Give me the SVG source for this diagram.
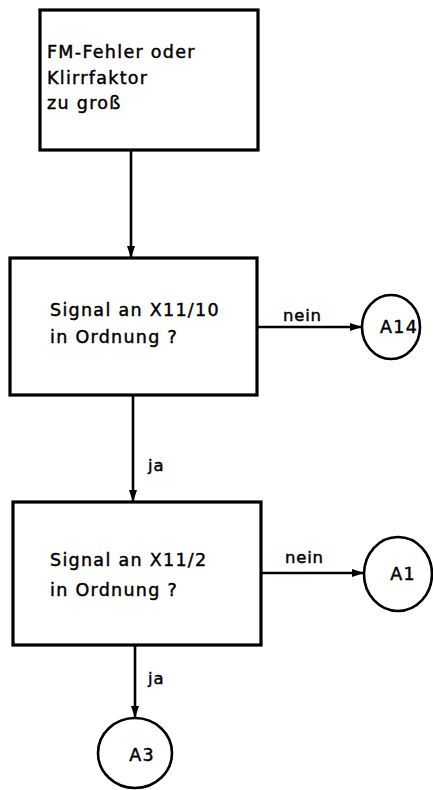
<svg xmlns="http://www.w3.org/2000/svg" width="433" height="790" viewBox="0 0 433 790">
<style>
.box{fill:#fff;stroke:#000;stroke-width:3.2}
.term{fill:#fff;stroke:#000;stroke-width:2.6}
.line{fill:none;stroke:#000;stroke-width:2.6}
text{font-family:"DejaVu Sans","Liberation Sans",sans-serif;font-size:17.5px;fill:#000;stroke:#000;stroke-width:0.45;letter-spacing:1.3px}
.lbl{font-size:16.5px;letter-spacing:0.8px}
</style>
<defs>
<marker id="ah" markerWidth="12" markerHeight="8" refX="11" refY="4" orient="auto" markerUnits="userSpaceOnUse">
<path d="M0,0 L12,4 L0,8 Z" fill="#000"/>
</marker>
</defs>
<rect width="433" height="790" fill="#fff"/>
<g id="connectors">
<line class="line" x1="131" y1="150" x2="131" y2="257" marker-end="url(#ah)"/>
<line class="line" x1="133" y1="395" x2="133" y2="501" marker-end="url(#ah)"/>
<line class="line" x1="257" y1="327" x2="361" y2="327" marker-end="url(#ah)"/>
<line class="line" x1="261" y1="573" x2="363" y2="573" marker-end="url(#ah)"/>
<line class="line" x1="135" y1="645" x2="135" y2="717" marker-end="url(#ah)"/>
<text class="lbl" x="283" y="321">nein</text>
<text class="lbl" x="148" y="471">ja</text>
<text class="lbl" x="285" y="563">nein</text>
<text class="lbl" x="148" y="684">ja</text>
</g>
<g id="n1">
<rect class="box" x="40" y="10" width="218" height="140"/>
<text x="47" y="58">FM-Fehler oder</text>
<text x="47" y="84">Klirrfaktor</text>
<text x="47" y="109">zu groß</text>
</g>
<g id="n2">
<rect class="box" x="10" y="258" width="247" height="137"/>
<text x="50" y="316">Signal an X11/10</text>
<text x="50" y="343">in Ordnung ?</text>
</g>
<g id="n3">
<rect class="box" x="13" y="502" width="248" height="143"/>
<text x="50" y="566">Signal an X11/2</text>
<text x="50" y="596">in Ordnung ?</text>
</g>
<g id="a14">
<ellipse class="term" cx="391" cy="327" rx="29" ry="32"/>
<text x="399" y="333" text-anchor="middle" letter-spacing="0.5">A14</text>
</g>
<g id="a1">
<ellipse class="term" cx="398" cy="574" rx="34" ry="37"/>
<text x="403" y="580" text-anchor="middle" letter-spacing="0.5">A1</text>
</g>
<g id="a3">
<ellipse class="term" cx="135" cy="753" rx="37" ry="35"/>
<text x="142" y="761" text-anchor="middle" letter-spacing="0.5">A3</text>
</g>
</svg>
